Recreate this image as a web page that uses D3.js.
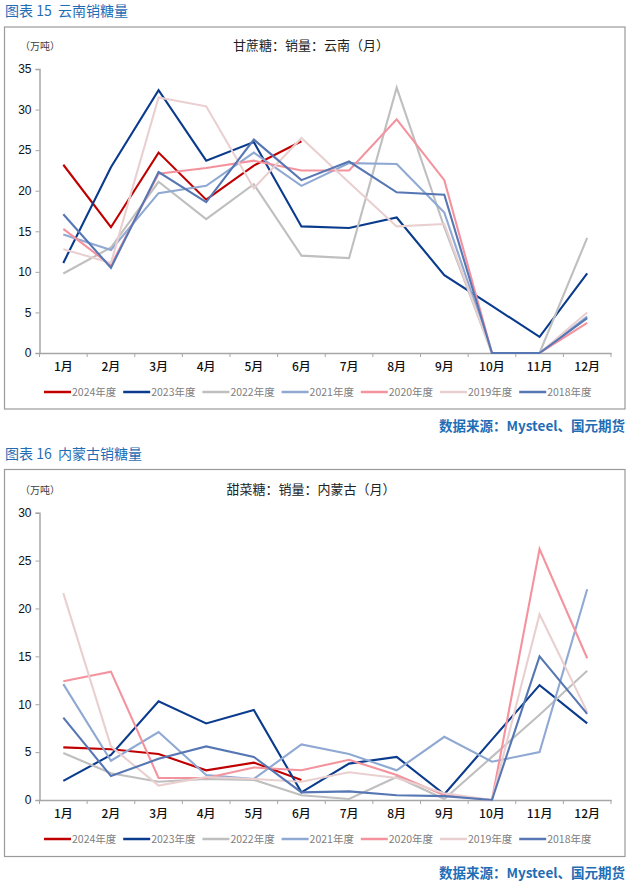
<!DOCTYPE html>
<html>
<head>
<meta charset="utf-8">
<script src="https://cdn.jsdelivr.net/npm/d3@7/dist/d3.min.js"></script>
<style>
  html, body { margin: 0; padding: 0; background: #fff; }
  svg { display: block; }
</style>
</head>
<body>
<svg id="chart" width="629" height="883"></svg>
<script>
// ---------- DATA ----------
const months = ["1月","2月","3月","4月","5月","6月","7月","8月","9月","10月","11月","12月"];
const seriesNames = ["2024年度","2023年度","2022年度","2021年度","2020年度","2019年度","2018年度"];
const seriesColors = ["#C00000","#0A3B8C","#BFBFBF","#8FA9D3","#F4939E","#E9CFD0","#5677B3"];

// 云南 甘蔗糖销量（万吨）
const yn2024 = [23.2,15.5,24.7,18.9,23.1,26.1];
const yn2023 = [11.1,22.9,32.4,23.7,26.0,15.6,15.4,16.7,9.6,5.8,2.0,9.8];
const yn2022 = [9.8,13.0,21.1,16.5,20.8,12.0,11.7,32.7,15.5,0,0,14.2];
const yn2021 = [14.6,12.7,19.7,20.6,24.7,20.6,23.4,23.3,17.3,0,0,4.5];
const yn2020 = [15.3,10.8,22.1,22.8,23.7,22.5,22.5,28.8,21.3,0,0,3.7];
const yn2019 = [12.8,11.1,31.5,30.4,20.3,26.5,21.0,15.6,15.9,0,0,5.0];
const yn2018 = [17.1,10.5,22.3,18.6,26.3,21.3,23.6,19.8,19.5,0,0,4.3];
const ynTicks = [0,5,10,15,20,25,30,35];

// 内蒙古 甜菜糖销量（万吨）
const nm2024 = [5.5,5.3,4.8,3.1,3.9,2.1];
const nm2023 = [2.0,4.7,10.3,8.0,9.4,0.8,3.8,4.5,0.6,6.3,12.0,8.0];
const nm2022 = [4.9,2.8,1.9,2.2,2.1,0.5,0.1,2.4,0.1,4.5,8.9,13.5];
const nm2021 = [12.1,4.1,7.1,2.6,2.2,5.8,4.8,3.1,6.6,4.0,5.0,22.0];
const nm2020 = [12.4,13.4,2.3,2.3,3.4,3.1,4.2,2.6,0.5,0,26.2,14.8];
const nm2019 = [21.6,5.6,1.5,2.4,2.2,1.9,2.9,2.3,0.7,0,19.4,9.2];
const nm2018 = [8.6,2.5,4.3,5.6,4.5,0.8,0.9,0.5,0.4,0,15.0,9.0];
const nmTicks = [0,5,10,15,20,25,30];

const charts = [
  {
    figTitle: "图表 15  云南销糖量",
    chartTitle: "甘蔗糖：销量：云南（月）",
    series: [yn2024, yn2023, yn2022, yn2021, yn2020, yn2019, yn2018],
    ticks: ynTicks,
    top: 0
  },
  {
    figTitle: "图表 16  内蒙古销糖量",
    chartTitle: "甜菜糖：销量：内蒙古（月）",
    series: [nm2024, nm2023, nm2022, nm2021, nm2020, nm2019, nm2018],
    ticks: nmTicks,
    top: 443
  }
];

// ---------- DRAW ----------
const svg = d3.select("#chart");
const cjk = "'Noto Sans CJK SC', 'Noto Sans', sans-serif";
const latin = "'Liberation Sans', Arial, sans-serif";

function draw(cfg) {
  const g = svg.append("g").attr("transform", `translate(0,${cfg.top})`);
  const boxTop = cfg.top === 0 ? 27 : 26.5;
  const boxBottom = cfg.top === 0 ? 409 : 413.5;

  // figure title
  g.append("text").attr("x", 5).attr("y", 16)
    .attr("font-family", cjk).attr("font-size", 14).attr("fill", "#1F6DB5")
    .attr("xml:space", "preserve")
    .text(cfg.figTitle);

  // frame
  g.append("rect").attr("x", 4.5).attr("y", boxTop).attr("width", 620.5).attr("height", boxBottom - boxTop)
    .attr("fill", "none").attr("stroke", "#9A9A9A").attr("stroke-width", 1.2);

  // source
  g.append("text").attr("x", 625).attr("y", boxBottom + 21.5)
    .attr("text-anchor", "end")
    .attr("font-family", cjk).attr("font-size", 13.5).attr("font-weight", "bold").attr("fill", "#1F6DB5")
    .text("数据来源：Mysteel、国元期货");

  const plotTop = cfg.top === 0 ? 69 : 69.7;
  const plotBottom = cfg.top === 0 ? 353 : 357;
  const left = 39.5, right = 611;

  const x = d3.scaleBand().domain(months).range([left, right]);
  const y = d3.scaleLinear().domain([0, d3.max(cfg.ticks)]).range([plotBottom, plotTop]);

  // unit label & chart title
  g.append("text").attr("x", 20).attr("y", plotTop - 19)
    .attr("font-family", cjk).attr("font-size", 10).attr("fill", "#404040")
    .text("（万吨）");
  g.append("text").attr("x", 311).attr("y", plotTop - 19)
    .attr("text-anchor", "middle")
    .attr("font-family", cjk).attr("font-size", 13).attr("fill", "#222")
    .text(cfg.chartTitle);

  // y axis
  const yAxis = g.append("g").attr("transform", `translate(${left},0)`)
    .call(d3.axisLeft(y).tickValues(cfg.ticks).tickSize(4).tickPadding(4).tickFormat(d3.format("d")));
  yAxis.select(".domain").attr("stroke", "#A6A6A6").attr("stroke-width", 1.5);
  yAxis.selectAll(".tick line").attr("stroke", "#A6A6A6");
  yAxis.selectAll(".tick text").attr("font-family", latin).attr("font-size", 12).attr("fill", "#111");

  // x axis
  const xAxis = g.append("g").attr("transform", `translate(0,${plotBottom})`)
    .call(d3.axisBottom(x).tickSize(0).tickPadding(9));
  xAxis.select(".domain").attr("stroke", "#A6A6A6").attr("stroke-width", 1.5);
  xAxis.selectAll(".tick text").attr("font-family", cjk).attr("font-size", 12).attr("font-weight", 500).attr("fill", "#111");
  const bounds = months.map(m => x(m)).concat([x(months[months.length - 1]) + x.bandwidth()]);
  xAxis.selectAll(".bound").data(bounds).enter().append("line")
    .attr("x1", d => d).attr("x2", d => d).attr("y1", 0).attr("y2", 4)
    .attr("stroke", "#A6A6A6").attr("stroke-width", 1);

  // lines
  const line = d3.line()
    .x((d, i) => x(months[i]) + x.bandwidth() / 2)
    .y(d => y(d));
  cfg.series.forEach((s, i) => {
    g.append("path").datum(s)
      .attr("fill", "none").attr("stroke", seriesColors[i]).attr("stroke-width", 2.1)
      .attr("stroke-linejoin", "miter").attr("d", line);
  });

  // legend
  const legY = plotBottom + 39;
  const leg = g.append("g");
  seriesNames.forEach((name, i) => {
    const lx = 44 + i * 79.2;
    leg.append("line").attr("x1", lx).attr("x2", lx + 27).attr("y1", legY).attr("y2", legY)
      .attr("stroke", seriesColors[i]).attr("stroke-width", 2.5);
    leg.append("text").attr("x", lx + 28).attr("y", legY + 4)
      .attr("font-family", cjk).attr("font-size", 10.5).attr("fill", "#808080")
      .text(name);
  });
}

charts.forEach(draw);
</script>
</body>
</html>
